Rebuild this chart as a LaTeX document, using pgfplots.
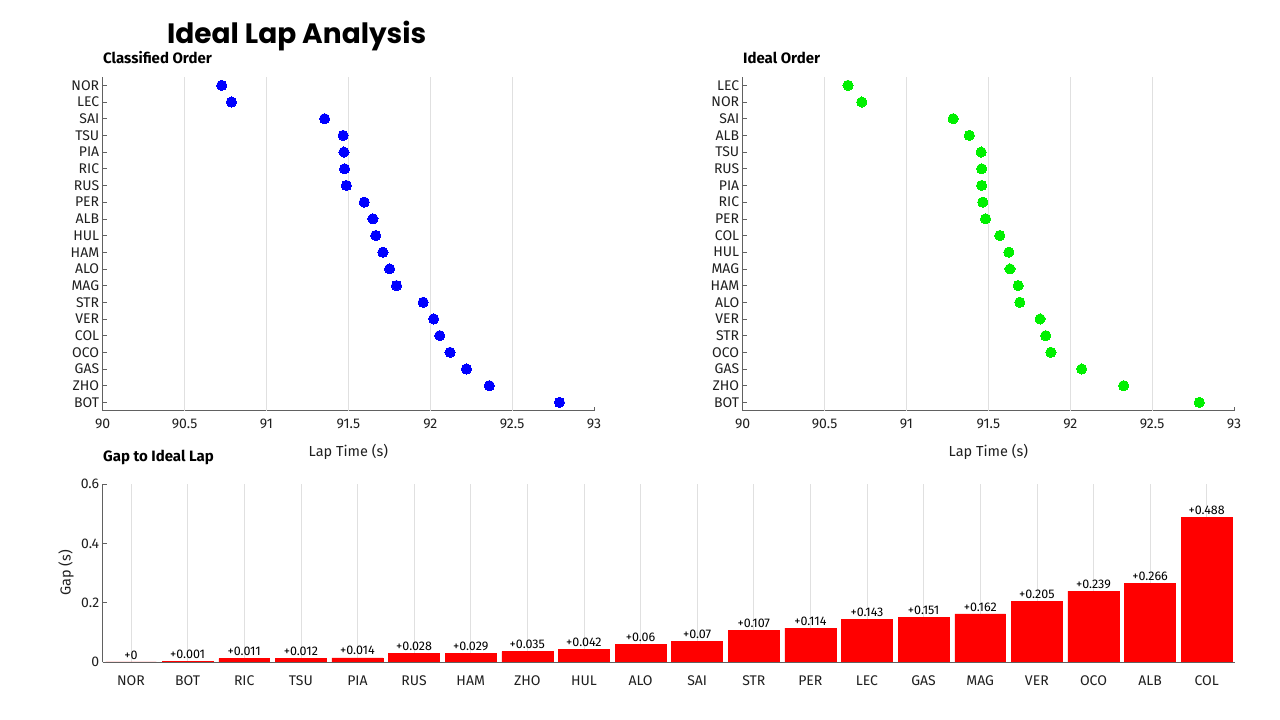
\documentclass[border=0pt]{standalone}
\usepackage{pgfplots}
\pgfplotsset{compat=1.18}
\usepackage{fontspec}
\setmainfont{Fira Sans}
\newfontfamily\titlefont{Poppins}

\definecolor{axgray}{gray}{0.38}
\definecolor{gridgray}{gray}{0.88}
\definecolor{txt}{gray}{0.12}
\definecolor{mgreen}{RGB}{0,240,0}

\pgfplotsset{
  myax/.style={
    scale only axis,
    axis x line=bottom, axis y line=left,
    axis line style={-, axgray, line width=0.7pt},
    tick style={axgray, line width=0.6pt},
    tick align=inside,
    major tick length=4pt,
    ticklabel style={font=\fontsize{14}{16}\selectfont, text=txt},
    /pgf/number format/assume math mode=true,
    major grid style={gridgray, line width=0.6pt},
  },
  scatax/.style={
    myax,
    width=491.3pt, height=333.7pt,
    xmin=90, xmax=93, ymin=-0.5, ymax=19.5,
    xtick={90,90.5,91,91.5,92,92.5,93},
    ytick={0,1,2,3,4,5,6,7,8,9,10,11,12,13,14,15,16,17,18,19},
    extra x ticks={90.5,91,91.5,92,92.5},
    extra x tick labels={},
    extra x tick style={grid=major, major tick length=0pt},
    xticklabel style={yshift=-5pt},
    xlabel={Lap Time (s)},
    every axis x label/.style={at={(axis description cs:0.5,0)}, anchor=center, yshift=-41.5pt, font=\fontsize{14.5}{17}\selectfont, text=txt},
  },
}

\begin{document}
\begin{tikzpicture}
\path[use as bounding box] (0,0) rectangle (1280pt,720pt);

% Classified order
\begin{axis}[scatax, at={(102.7pt,309.3pt)}, anchor=south west,
  yticklabels={BOT,ZHO,GAS,OCO,COL,VER,STR,MAG,ALO,HAM,HUL,ALB,PER,RUS,RIC,PIA,TSU,SAI,LEC,NOR}]
\addplot[only marks, blue, mark=*, mark size=5.1pt, mark options={fill=blue, draw=blue, line width=0pt}] table[x=t, y=i] {
i t
19 90.727
18 90.786
17 91.355
16 91.468
15 91.473
14 91.477
13 91.488
12 91.597
11 91.650
10 91.667
9 91.711
8 91.752
7 91.794
6 91.957
5 92.021
4 92.058
3 92.121
2 92.221
1 92.361
0 92.789
};
\end{axis}

% Ideal order
\begin{axis}[scatax, at={(742.7pt,309.3pt)}, anchor=south west,
  yticklabels={BOT,ZHO,GAS,OCO,STR,VER,ALO,HAM,MAG,HUL,COL,PER,RIC,PIA,RUS,TSU,ALB,SAI,NOR,LEC}]
\addplot[only marks, mgreen, mark=*, mark size=5.1pt, mark options={fill=mgreen, draw=mgreen, line width=0pt}] table[x=t, y=i] {
i t
19 90.643
18 90.727
17 91.285
16 91.384
15 91.456
14 91.459
13 91.459
12 91.466
11 91.483
10 91.570
9 91.625
8 91.632
7 91.682
6 91.692
5 91.816
4 91.850
3 91.882
2 92.070
1 92.326
0 92.788
};
\end{axis}

% Gap bars
\begin{axis}[myax, at={(102.7pt,58pt)}, anchor=south west,
  width=1132.3pt, height=178pt,
  ybar, bar width=0.9,
  xmin=-0.5, xmax=19.5, ymin=0, ymax=0.6,
  xtick={0,1,2,3,4,5,6,7,8,9,10,11,12,13,14,15,16,17,18,19},
  xticklabels={NOR,BOT,RIC,TSU,PIA,RUS,HAM,ZHO,HUL,ALO,SAI,STR,PER,LEC,GAS,MAG,VER,OCO,ALB,COL},
  xtick style={draw=none},
  xticklabel style={yshift=-6pt},
  xmajorgrids,
  ytick={0,0.2,0.4,0.6},
  ylabel={Gap (s)},
  every axis y label/.style={at={(axis description cs:0,0.5)}, xshift=-36.7pt, rotate=90, anchor=center, font=\fontsize{14.5}{17}\selectfont, text=txt},
  nodes near coords, point meta=explicit symbolic,
  every node near coord/.append style={font=\fontsize{12.5}{14}\selectfont, text=black, inner sep=2.5pt},
]
\addplot[fill=red, draw=red, line width=0.5pt] coordinates {
(0,0) [+0]
(1,0.001) [+0.001]
(2,0.011) [+0.011]
(3,0.012) [+0.012]
(4,0.014) [+0.014]
(5,0.028) [+0.028]
(6,0.029) [+0.029]
(7,0.035) [+0.035]
(8,0.042) [+0.042]
(9,0.06) [+0.06]
(10,0.07) [+0.07]
(11,0.107) [+0.107]
(12,0.114) [+0.114]
(13,0.143) [+0.143]
(14,0.151) [+0.151]
(15,0.162) [+0.162]
(16,0.205) [+0.205]
(17,0.239) [+0.239]
(18,0.266) [+0.266]
(19,0.488) [+0.488]
};
\end{axis}

\node[anchor=base west, inner sep=0, font=\titlefont\bfseries\fontsize{28}{32}\selectfont] at (167pt,676.7pt) {Ideal Lap Analysis};
\node[anchor=base west, inner sep=0, text=black, font=\bfseries\fontsize{15}{18}\selectfont] at (103pt,656.5pt) {Classified Order};
\node[anchor=base west, inner sep=0, text=black, font=\bfseries\fontsize{15}{18}\selectfont] at (743pt,656.5pt) {Ideal Order};
\node[anchor=base west, inner sep=0, text=black, font=\bfseries\fontsize{15}{18}\selectfont] at (103pt,258pt) {Gap to Ideal Lap};
\end{tikzpicture}
\end{document}
